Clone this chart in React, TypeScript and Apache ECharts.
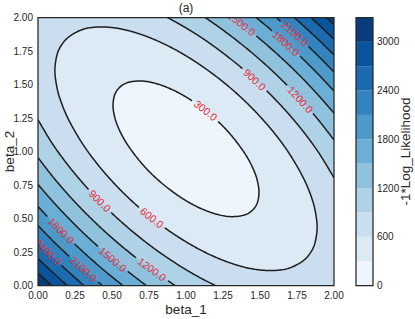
import { useEffect, useRef } from "react";
import * as echarts from "echarts";

type P = number[];

// ---- data ----
const levels = [300, 600, 900, 1200, 1500, 1800, 2100, 2400, 2700, 3000];
const bandEdges = [0, 300, 600, 900, 1200, 1500, 1800, 2100, 2400, 2700, 3000, 3300];
const bandColors = [
  "#eef5fc", "#dceaf6", "#cadef0", "#b0d2e7", "#90c2de", "#6baed6",
  "#4d9aca", "#3383be", "#1c6bb0", "#0a549e", "#083c7d",
];
const xTickLabels = ["0.00", "0.25", "0.50", "0.75", "1.00", "1.25", "1.50", "1.75", "2.00"];
const yTickLabels = ["0.00", "0.25", "0.50", "0.75", "1.00", "1.25", "1.50", "1.75", "2.00"];
const colorbarTickLabels = ["0", "600", "1200", "1800", "2400", "3000"];

// closed contours (beta_1, beta_2)
const contour300: P[] = [[0.507,1.347],[0.52,1.428],[0.55,1.477],[0.6,1.512],[0.7,1.526],[0.8,1.506],[0.9,1.465],[1.0,1.407],[1.1,1.332],[1.2,1.241],[1.3,1.128],[1.4,0.981],[1.45,0.88],[1.48,0.791],[1.493,0.693],[1.48,0.612],[1.45,0.563],[1.4,0.528],[1.3,0.514],[1.2,0.534],[1.1,0.575],[1.0,0.633],[0.9,0.708],[0.8,0.799],[0.7,0.912],[0.6,1.059],[0.55,1.16],[0.52,1.249]];
const contour600: P[] = [[0.114,1.608],[0.13,1.727],[0.15,1.779],[0.2,1.848],[0.3,1.91],[0.4,1.929],[0.5,1.925],[0.6,1.905],[0.7,1.872],[0.8,1.829],[0.9,1.776],[1.0,1.714],[1.1,1.643],[1.2,1.563],[1.3,1.474],[1.4,1.374],[1.5,1.261],[1.6,1.133],[1.7,0.981],[1.8,0.787],[1.85,0.651],[1.87,0.573],[1.886,0.433],[1.87,0.313],[1.85,0.261],[1.8,0.192],[1.7,0.131],[1.6,0.112],[1.5,0.116],[1.4,0.135],[1.3,0.168],[1.2,0.211],[1.1,0.264],[1.0,0.326],[0.9,0.397],[0.8,0.477],[0.7,0.566],[0.6,0.666],[0.5,0.779],[0.4,0.908],[0.3,1.059],[0.2,1.253],[0.15,1.389],[0.13,1.467]];

// open contours: lower-left arc (left edge -> bottom edge), upper-right arc (top edge -> right edge)
const lower900: P[] = [[0,1.236],[0.1,1.054],[0.2,0.902],[0.3,0.768],[0.4,0.648],[0.5,0.539],[0.6,0.439],[0.7,0.348],[0.8,0.264],[0.9,0.188],[1.0,0.118],[1.1,0.055],[1.198,0]];
const upper900: P[] = [[0.875,2],[0.9,1.985],[1.0,1.922],[1.1,1.853],[1.2,1.776],[1.3,1.692],[1.4,1.601],[1.5,1.501],[1.6,1.392],[1.7,1.272],[1.8,1.138],[1.9,0.986],[2,0.804]];
const lower1200: P[] = [[0,0.954],[0.1,0.812],[0.2,0.683],[0.3,0.565],[0.4,0.456],[0.5,0.355],[0.6,0.262],[0.7,0.175],[0.8,0.094],[0.9,0.019],[0.926,0]];
const upper1200: P[] = [[1.129,2],[1.2,1.946],[1.3,1.865],[1.4,1.778],[1.5,1.685],[1.6,1.584],[1.7,1.475],[1.8,1.357],[1.9,1.228],[2,1.086]];
const lower1500: P[] = [[0,0.754],[0.1,0.627],[0.2,0.509],[0.3,0.399],[0.4,0.297],[0.5,0.201],[0.6,0.111],[0.7,0.026],[0.732,0]];
const upper1500: P[] = [[1.317,2],[1.4,1.929],[1.5,1.839],[1.6,1.743],[1.7,1.641],[1.8,1.531],[1.9,1.413],[2,1.286]];
const lower1800: P[] = [[0,0.59],[0.1,0.471],[0.2,0.36],[0.3,0.256],[0.4,0.157],[0.5,0.064],[0.573,0]];
const upper1800: P[] = [[1.473,2],[1.5,1.976],[1.6,1.883],[1.7,1.784],[1.8,1.68],[1.9,1.569],[2,1.451]];
const lower2100: P[] = [[0,0.447],[0.1,0.334],[0.2,0.228],[0.3,0.127],[0.4,0.032],[0.435,0]];
const upper2100: P[] = [[1.609,2],[1.7,1.913],[1.8,1.812],[1.9,1.706],[2,1.593]];
const lower2400: P[] = [[0,0.319],[0.1,0.211],[0.2,0.108],[0.31,0]];
const upper2400: P[] = [[1.731,2],[1.8,1.932],[1.9,1.829],[2,1.721]];
const lower2700: P[] = [[0,0.202],[0.05,0.149],[0.1,0.097],[0.15,0.047],[0.197,0]];
const upper2700: P[] = [[1.844,2],[1.87,1.973],[1.9,1.943],[1.95,1.891],[2,1.838]];
const lower3000: P[] = [[0,0.094],[0.05,0.042],[0.092,0]];
const upper3000: P[] = [[1.949,2],[1.975,1.972],[2,1.946]];

// inline contour labels
const labelLevels = [300, 600, 900, 900, 1200, 1200, 1500, 1500, 1800, 1800, 2100, 2100, 2400];
const labelBeta1 = [1.14, 0.761, 1.478, 0.424, 1.78, 0.772, 1.384, 0.514, 1.68, 0.153, 1.748, 0.3, 0.063];
const labelBeta2 = [1.32, 0.499, 1.553, 0.636, 1.39, 0.117, 1.959, 0.2, 1.815, 0.4, 1.889, 0.112, 0.237];

// ---- assembled structures ----
const closedContours = [
  { level: 300, pts: contour300 },
  { level: 600, pts: contour600 },
];
const openContours = [
  { level: 900, lower: lower900, upper: upper900 },
  { level: 1200, lower: lower1200, upper: upper1200 },
  { level: 1500, lower: lower1500, upper: upper1500 },
  { level: 1800, lower: lower1800, upper: upper1800 },
  { level: 2100, lower: lower2100, upper: upper2100 },
  { level: 2400, lower: lower2400, upper: upper2400 },
  { level: 2700, lower: lower2700, upper: upper2700 },
  { level: 3000, lower: lower3000, upper: upper3000 },
];

const FONT = "'Liberation Sans', Arial, Helvetica, sans-serif";
const INK = "#262626";
const LINE = "#1e1e1e";
const LABEL_RED = "#ea2a35";
const LABEL_SIZE = 10.5;
const GRID = { left: 38, top: 17.5, width: 296, height: 268 };
const CBAR = { left: 356, top: 17.5, width: 17, height: 268 };

function smoothCurve(pts: P[], closed: boolean): P[] {
  const n = pts.length;
  const get = (i: number): P => {
    if (closed) return pts[((i % n) + n) % n];
    if (i < 0) return [2 * pts[0][0] - pts[1][0], 2 * pts[0][1] - pts[1][1]];
    if (i >= n) return [2 * pts[n - 1][0] - pts[n - 2][0], 2 * pts[n - 1][1] - pts[n - 2][1]];
    return pts[i];
  };
  const d = (a: P, b: P) => Math.max(Math.sqrt(Math.hypot(b[0] - a[0], b[1] - a[1])), 1e-4);
  const out: P[] = [];
  const segs = closed ? n : n - 1;
  for (let i = 0; i < segs; i++) {
    const p0 = get(i - 1), p1 = get(i), p2 = get(i + 1), p3 = get(i + 2);
    const t0 = 0, t1 = d(p0, p1), t2 = t1 + d(p1, p2), t3 = t2 + d(p2, p3);
    const len = Math.hypot(p2[0] - p1[0], p2[1] - p1[1]);
    const steps = Math.max(2, Math.ceil(len / 1.2));
    for (let s = 0; s < steps; s++) {
      const t = t1 + ((t2 - t1) * s) / steps;
      const lerp = (a: P, b: P, ta: number, tb: number): P => [
        ((tb - t) / (tb - ta)) * a[0] + ((t - ta) / (tb - ta)) * b[0],
        ((tb - t) / (tb - ta)) * a[1] + ((t - ta) / (tb - ta)) * b[1],
      ];
      const A1 = lerp(p0, p1, t0, t1), A2 = lerp(p1, p2, t1, t2), A3 = lerp(p2, p3, t2, t3);
      const B1 = lerp(A1, A2, t0, t2), B2 = lerp(A2, A3, t1, t3);
      out.push(lerp(B1, B2, t1, t2));
    }
  }
  out.push(closed ? out[0].slice() : pts[n - 1].slice());
  return out;
}

function splitAtGaps(line: P[], gaps: { c: P; r: number }[]): P[][] {
  const parts: P[][] = [];
  let cur: P[] = [];
  for (const p of line) {
    const inside = gaps.some((g) => Math.hypot(p[0] - g.c[0], p[1] - g.c[1]) < g.r);
    if (inside) {
      if (cur.length > 1) parts.push(cur);
      cur = [];
    } else cur.push(p);
  }
  if (cur.length > 1) parts.push(cur);
  return parts;
}

function textWidth(t: string, size: number) {
  let w = 0;
  for (const ch of t) w += ch === "." ? 0.278 : 0.556;
  return w * size;
}

export default function App() {
  const ref = useRef<HTMLDivElement>(null);
  useEffect(() => {
    if (!ref.current) return;
    const chart = echarts.init(ref.current, undefined, { renderer: "svg" });

    const renderContours = (params: any, api: any) => {
      const c = (p: P): P => api.coord(p);
      const children: any[] = [];
      const box = [c([0, 0]), c([2, 0]), c([2, 2]), c([0, 2])];
      children.push({ type: "polygon", shape: { points: box }, style: { fill: bandColors[10] } });

      const curves: Record<number, P[][]> = {};
      for (const oc of openContours) {
        curves[oc.level] = [
          smoothCurve(oc.lower.map(c), false),
          smoothCurve(oc.upper.map(c), false),
        ];
      }
      for (const cc of closedContours) {
        curves[cc.level] = [smoothCurve(cc.pts.map(c), true)];
      }
      // filled bands, painted from the highest level down
      for (let k = levels.length - 1; k >= 0; k--) {
        const L = levels[k];
        const cv = curves[L];
        let poly: P[];
        if (cv.length === 2) {
          poly = cv[0].concat([c([2, 0])], cv[1].slice().reverse(), [c([0, 2])]);
        } else poly = cv[0];
        children.push({ type: "polygon", shape: { points: poly }, style: { fill: bandColors[k] } });
      }

      // labels
      const gapsByLevel: Record<number, { c: P; r: number }[]> = {};
      const labelEls: any[] = [];
      labelLevels.forEach((L, i) => {
        const target = c([labelBeta1[i], labelBeta2[i]]);
        let best = Infinity, bl: P[] = [], bk = 0;
        for (const line of curves[L]) {
          line.forEach((p, k) => {
            const dd = Math.hypot(p[0] - target[0], p[1] - target[1]);
            if (dd < best) { best = dd; bl = line; bk = k; }
          });
        }
        const center = bl[bk];
        const a = bl[Math.max(0, bk - 4)], b = bl[Math.min(bl.length - 1, bk + 4)];
        let theta = Math.atan2(-(b[1] - a[1]), b[0] - a[0]);
        if (theta > Math.PI / 2) theta -= Math.PI;
        if (theta < -Math.PI / 2) theta += Math.PI;
        const text = L.toFixed(1);
        const w = textWidth(text, LABEL_SIZE);
        (gapsByLevel[L] = gapsByLevel[L] || []).push({ c: center, r: w / 2 + 2.5 });
        labelEls.push({
          type: "text",
          x: center[0],
          y: center[1],
          rotation: theta,
          silent: true,
          style: {
            text,
            fill: LABEL_RED,
            fontSize: LABEL_SIZE,
            fontFamily: FONT,
            align: "center",
            verticalAlign: "middle",
          },
        });
      });

      for (const L of levels) {
        for (const line of curves[L]) {
          for (const part of splitAtGaps(line, gapsByLevel[L] || [])) {
            children.push({
              type: "polyline",
              shape: { points: part },
              style: { stroke: LINE, lineWidth: 1.5, fill: null },
            });
          }
        }
      }
      children.push(...labelEls);
      return { type: "group", children };
    };

    const frame = (params: any, api: any) => {
      const p1 = api.coord([api.value(0), api.value(3)]);
      const p2 = api.coord([api.value(2), api.value(1)]);
      return {
        type: "rect",
        shape: { x: p1[0], y: p1[1], width: p2[0] - p1[0], height: p2[1] - p1[1] },
        style: { fill: null, stroke: INK, lineWidth: 1.25 },
        z2: 100,
      };
    };

    const option: any = {
      animation: false,
      textStyle: { fontFamily: FONT },
      grid: [
        { left: GRID.left, top: GRID.top, width: GRID.width, height: GRID.height, outerBoundsMode: "none", containLabel: false },
        { left: CBAR.left, top: CBAR.top, width: CBAR.width, height: CBAR.height, outerBoundsMode: "none", containLabel: false },
      ],
      graphic: [
        {
          type: "text",
          x: GRID.left + GRID.width / 2,
          y: 8,
          style: {
            text: "(a)",
            fontSize: 12,
            fontFamily: FONT,
            fill: INK,
            align: "center",
            verticalAlign: "middle",
          },
        },
      ],
      xAxis: [
        {
          gridIndex: 0, type: "value", min: 0, max: 2, interval: 0.25,
          axisLine: { show: false }, axisTick: { show: false }, splitLine: { show: false },
          axisLabel: {
            formatter: (v: number) => xTickLabels[Math.round(v / 0.25)],
            fontSize: 10, color: INK, fontFamily: FONT, margin: 5,
          },
          name: "beta_1", nameLocation: "middle", nameGap: 17, nameMoveOverlap: false,
          nameTextStyle: { fontSize: 13.5, color: INK, fontFamily: FONT },
        },
        { gridIndex: 1, type: "value", min: 0, max: 1, show: false },
      ],
      yAxis: [
        {
          gridIndex: 0, type: "value", min: 0, max: 2, interval: 0.25,
          axisLine: { show: false }, axisTick: { show: false }, splitLine: { show: false },
          axisLabel: {
            formatter: (v: number) => yTickLabels[Math.round(v / 0.25)],
            fontSize: 10, color: INK, fontFamily: FONT, margin: 5,
          },
          name: "beta_2", nameLocation: "middle", nameGap: 22, nameRotate: 90, nameMoveOverlap: false,
          nameTextStyle: { fontSize: 13.5, color: INK, fontFamily: FONT },
        },
        {
          gridIndex: 1, type: "value", min: 0, max: 3300, interval: 600, position: "right",
          axisLine: { show: false }, axisTick: { show: false }, splitLine: { show: false },
          axisLabel: {
            fontSize: 10, color: INK, fontFamily: FONT, margin: 4, showMaxLabel: false,
            formatter: (v: number) => colorbarTickLabels[Math.round(v / 600)] ?? "",
          },
          name: "-1*Log_Likelihood", nameLocation: "middle", nameGap: 25, nameRotate: 90, nameMoveOverlap: false,
          nameTextStyle: { fontSize: 13.5, color: INK, fontFamily: FONT },
        },
      ],
      series: [
        {
          type: "custom", xAxisIndex: 0, yAxisIndex: 0, clip: true, silent: true,
          data: [[0, 0]], renderItem: renderContours, z: 2,
        },
        {
          type: "custom", xAxisIndex: 1, yAxisIndex: 1, silent: true, z: 2,
          data: bandColors.map((_, i) => [0, bandEdges[i], 1, bandEdges[i + 1]]),
          renderItem: (params: any, api: any) => {
            const p1 = api.coord([api.value(0), api.value(3)]);
            const p2 = api.coord([api.value(2), api.value(1)]);
            return {
              type: "rect",
              shape: { x: p1[0], y: p1[1], width: p2[0] - p1[0], height: p2[1] - p1[1] },
              style: { fill: bandColors[params.dataIndex], stroke: null },
            };
          },
        },
        {
          type: "custom", xAxisIndex: 0, yAxisIndex: 0, silent: true, z: 10,
          data: [[0, 0, 2, 2]], renderItem: frame,
        },
        {
          type: "custom", xAxisIndex: 1, yAxisIndex: 1, silent: true, z: 10,
          data: [[0, bandEdges[0], 1, bandEdges[bandEdges.length - 1]]], renderItem: frame,
        },
      ],
    };
    chart.setOption(option);
    return () => chart.dispose();
  }, []);
  return (
    <div
      ref={ref}
      style={{ position: "absolute", left: 0, top: 0, width: 415, height: 319, background: "#fff" }}
    />
  );
}
